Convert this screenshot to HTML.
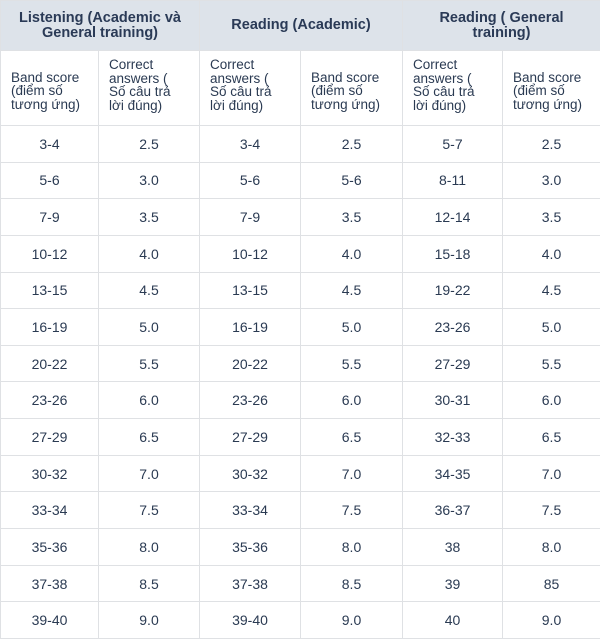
<!DOCTYPE html>
<html><head><style>
html,body{margin:0;padding:0;background:#fff;overflow:hidden;}
table{border-collapse:collapse;table-layout:fixed;width:600px;font-family:"Liberation Sans",Arial,sans-serif;color:#2a3a52;}
td,th{border:1px solid #dfe1e4;padding:0;}
th{background:#dde3ea;font-weight:bold;font-size:14.5px;line-height:15px;height:49px;color:#2a3a56;text-align:center;}
tr.sub td{height:68px;font-size:13.5px;line-height:13.5px;text-align:left;vertical-align:middle;padding-left:10px;color:#2a3a52;}
tr.d td{height:35.65px;font-size:14px;text-align:center;}
</style></head><body>
<table>
<colgroup><col style="width:98px"><col style="width:101px"><col style="width:101px"><col style="width:102px"><col style="width:100px"><col style="width:98px"></colgroup>
<tr><th colspan="2">Listening (Academic và<br>General training)</th><th colspan="2">Reading (Academic)</th><th colspan="2">Reading ( General<br>training)</th></tr>
<tr class="sub">
<td style="padding-top:6px">Band score<br>(điểm số<br>tương ứng)</td>
<td style="padding-bottom:6px">Correct<br>answers (<br>Số câu trả<br>lời đúng)</td>
<td style="padding-bottom:6px">Correct<br>answers (<br>Số câu trả<br>lời đúng)</td>
<td style="padding-top:6px">Band score<br>(điểm số<br>tương ứng)</td>
<td style="padding-bottom:6px">Correct<br>answers (<br>Số câu trả<br>lời đúng)</td>
<td style="padding-top:6px">Band score<br>(điểm số<br>tương ứng)</td>
</tr>
<tr class="d"><td>3-4</td><td>2.5</td><td>3-4</td><td>2.5</td><td>5-7</td><td>2.5</td></tr>
<tr class="d"><td>5-6</td><td>3.0</td><td>5-6</td><td>5-6</td><td>8-11</td><td>3.0</td></tr>
<tr class="d"><td>7-9</td><td>3.5</td><td>7-9</td><td>3.5</td><td>12-14</td><td>3.5</td></tr>
<tr class="d"><td>10-12</td><td>4.0</td><td>10-12</td><td>4.0</td><td>15-18</td><td>4.0</td></tr>
<tr class="d"><td>13-15</td><td>4.5</td><td>13-15</td><td>4.5</td><td>19-22</td><td>4.5</td></tr>
<tr class="d"><td>16-19</td><td>5.0</td><td>16-19</td><td>5.0</td><td>23-26</td><td>5.0</td></tr>
<tr class="d"><td>20-22</td><td>5.5</td><td>20-22</td><td>5.5</td><td>27-29</td><td>5.5</td></tr>
<tr class="d"><td>23-26</td><td>6.0</td><td>23-26</td><td>6.0</td><td>30-31</td><td>6.0</td></tr>
<tr class="d"><td>27-29</td><td>6.5</td><td>27-29</td><td>6.5</td><td>32-33</td><td>6.5</td></tr>
<tr class="d"><td>30-32</td><td>7.0</td><td>30-32</td><td>7.0</td><td>34-35</td><td>7.0</td></tr>
<tr class="d"><td>33-34</td><td>7.5</td><td>33-34</td><td>7.5</td><td>36-37</td><td>7.5</td></tr>
<tr class="d"><td>35-36</td><td>8.0</td><td>35-36</td><td>8.0</td><td>38</td><td>8.0</td></tr>
<tr class="d"><td>37-38</td><td>8.5</td><td>37-38</td><td>8.5</td><td>39</td><td>85</td></tr>
<tr class="d"><td>39-40</td><td>9.0</td><td>39-40</td><td>9.0</td><td>40</td><td>9.0</td></tr>
</table>
</body></html>
